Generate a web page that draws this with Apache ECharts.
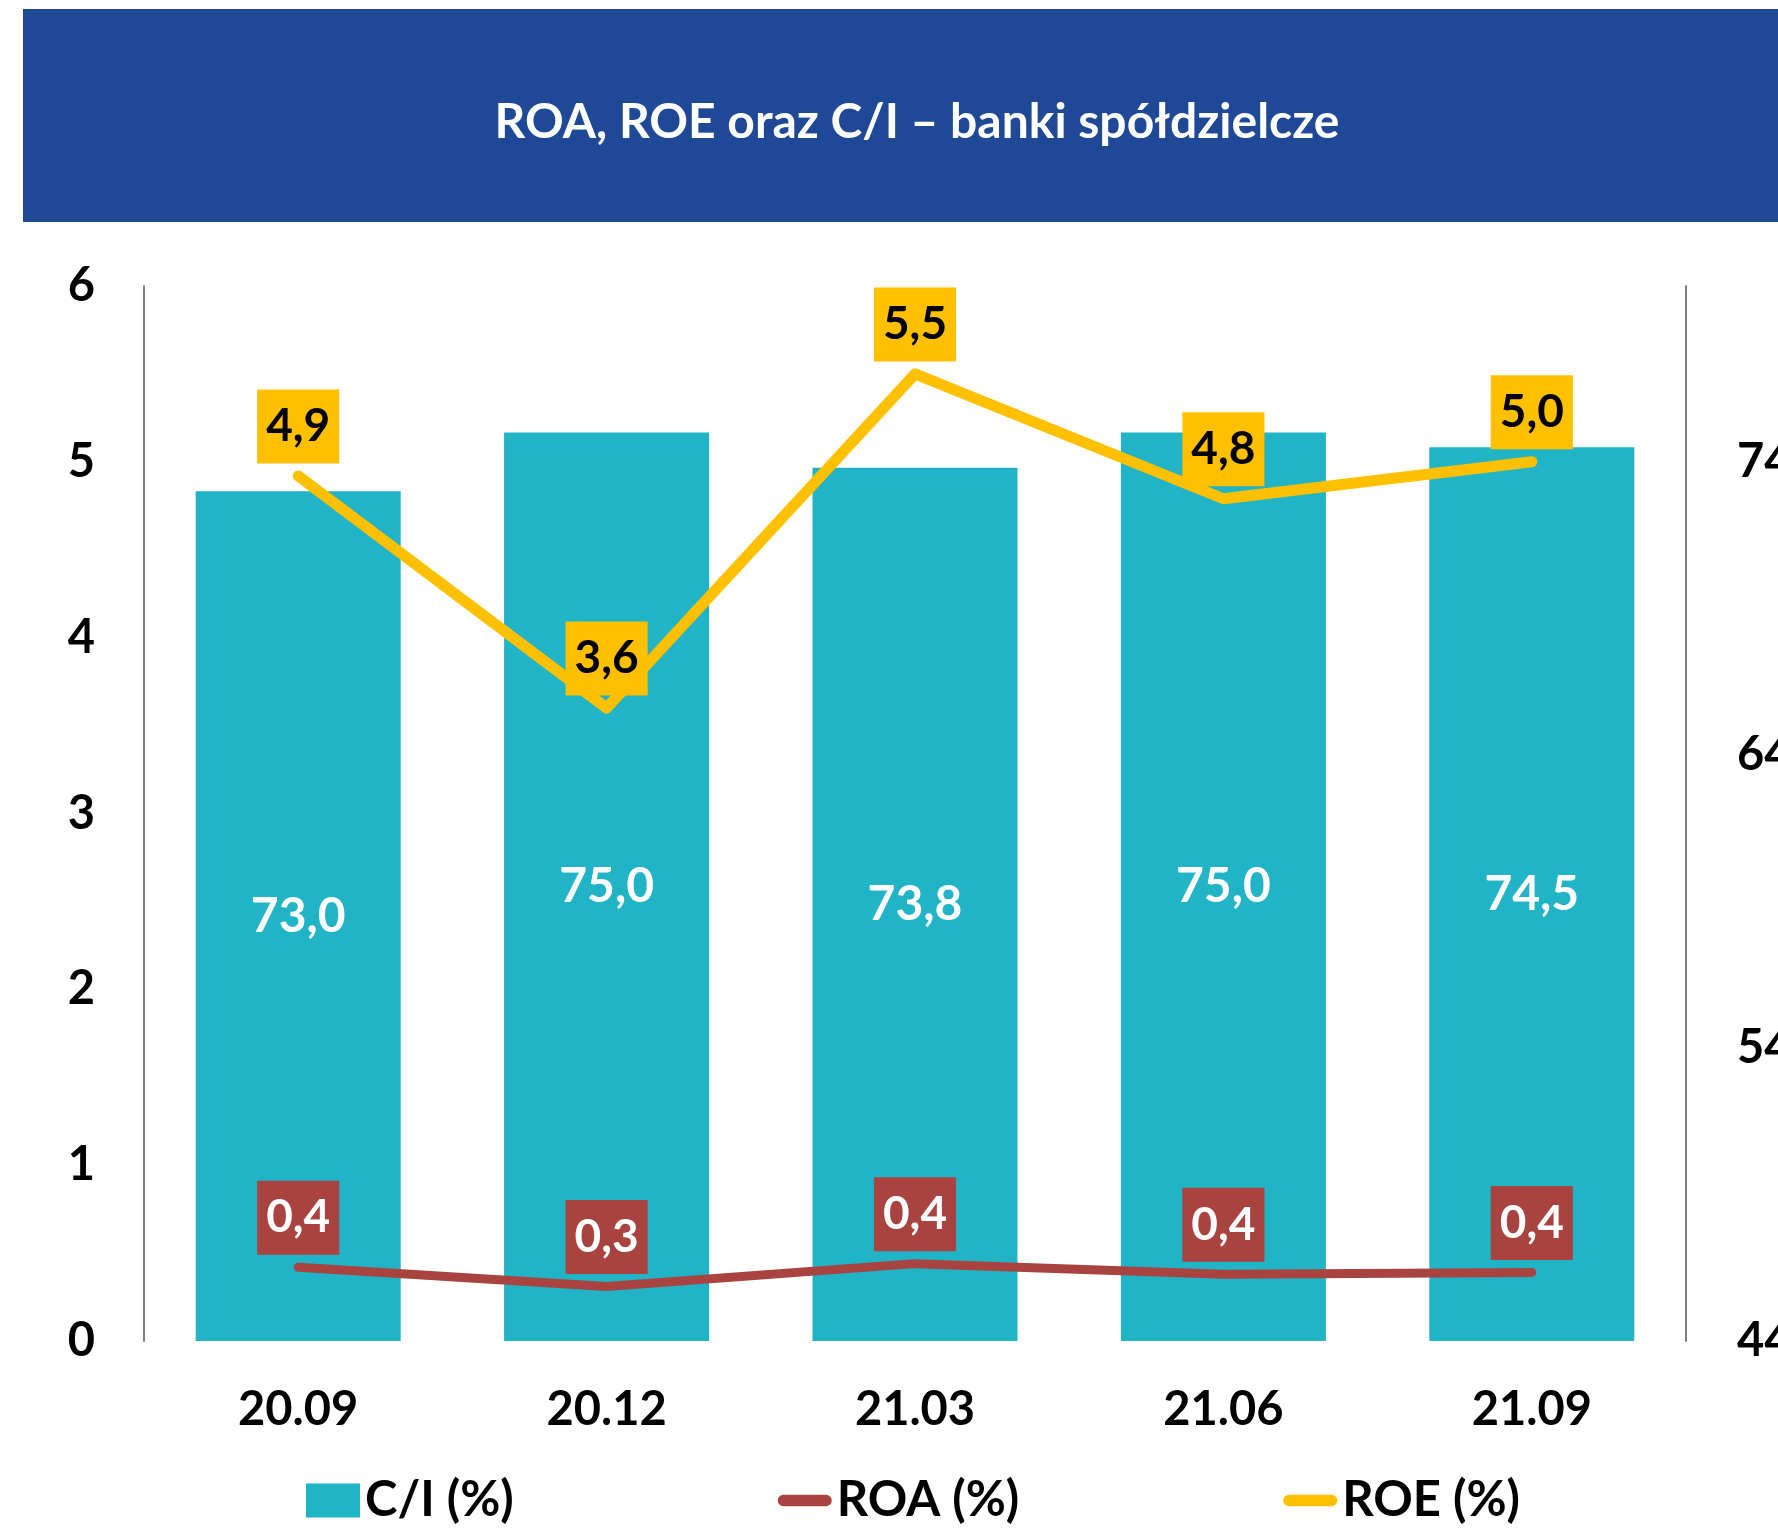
<!DOCTYPE html>
<html>
<head>
<meta charset="utf-8">
<script src="https://cdn.jsdelivr.net/npm/echarts@6/dist/echarts.min.js"></script>
<style>
    html, body { margin: 0; padding: 0; background: #fff; }
    #chart { width: 1778px; height: 1529px; }
</style>
</head>
<body>
<div id="chart"></div>
<script>
    // dane z wykresu
    const categories = ['20.09', '20.12', '21.03', '21.06', '21.09'];
    const ciValues = [73.0, 75.0, 73.8, 75.0, 74.5];
    const roaValues = [0.42, 0.31, 0.44, 0.38, 0.39];
    const roeValues = [4.92, 3.6, 5.5, 4.79, 5.0];
    const leftTicks = [0, 6, 1];   // min, max, krok
    const rightTicks = [44, 80, 10];

    const FONT = 'Lato';
    const fmt = v => v.toFixed(1).replace('.', ',');

    // pigułka dla ikon legendy linii
    const pill = 'path://M6,0 L50,0 A6,6 0 0 1 50,12 L6,12 A6,6 0 0 1 6,0 Z';

    const chart = echarts.init(document.getElementById('chart'));

    const boxLabel = (bg, color) => ({
        show: true,
        position: 'top',
        distance: 12,
        formatter: p => fmt(p.value),
        backgroundColor: bg,
        color: color,
        fontFamily: FONT,
        fontWeight: 'bold',
        fontSize: 46,
        lineHeight: 50,
        padding: [12, 9, 12, 9]
    });

    const axisText = {
        color: '#000',
        fontFamily: FONT,
        fontWeight: 'bold',
        fontSize: 47
    };

    const option = {
        backgroundColor: '#fff',
        animation: false,
        title: {
            text: 'ROA, ROE oraz C/I – banki spółdzielcze',
            left: 912,
            top: 118,
            textAlign: 'center',
            textVerticalAlign: 'middle',
            textStyle: {
                color: '#fff',
                fontFamily: FONT,
                fontWeight: 'bold',
                fontSize: 48
            }
        },
        graphic: [{
            type: 'rect',
            z: -1,
            shape: { x: 23, y: 9, width: 1778 - 23, height: 213 },
            style: { fill: '#1F4896' }
        }],
        legend: {
            left: 301,
            top: 1471,
            itemGap: 264,
            itemWidth: 54,
            itemHeight: 34,
            textStyle: {
                color: '#000',
                fontFamily: FONT,
                fontWeight: 'bold',
                fontSize: 49
            },
            data: [
                { name: 'C/I (%)', icon: 'rect' },
                { name: 'ROA (%)', icon: pill },
                { name: 'ROE (%)', icon: pill }
            ]
        },
        grid: {
            left: 144,
            right: 92,
            top: 286,
            bottom: 188,
            containLabel: false,
            outerBoundsMode: 'none'
        },
        xAxis: {
            type: 'category',
            data: categories,
            axisLine: { show: false },
            axisTick: { show: false },
            axisLabel: Object.assign({ margin: 45 }, axisText)
        },
        yAxis: [{
            type: 'value',
            min: leftTicks[0],
            max: leftTicks[1],
            interval: leftTicks[2],
            splitLine: { show: false },
            axisTick: { show: false },
            axisLine: { show: true, lineStyle: { color: '#7f7f7f', width: 2 } },
            axisLabel: Object.assign({ margin: 49 }, axisText)
        }, {
            type: 'value',
            position: 'right',
            min: rightTicks[0],
            max: rightTicks[1],
            interval: rightTicks[2],
            splitLine: { show: false },
            axisTick: { show: false },
            axisLine: { show: true, lineStyle: { color: '#7f7f7f', width: 2 } },
            axisLabel: Object.assign({ margin: 51, showMaxLabel: false }, axisText)
        }],
        series: [{
            name: 'C/I (%)',
            type: 'bar',
            yAxisIndex: 1,
            data: ciValues,
            barWidth: 205,
            itemStyle: { color: '#21B3C6' },
            label: {
                show: true,
                position: 'inside',
                formatter: p => fmt(p.value),
                color: '#fff',
                fontFamily: FONT,
                fontWeight: 'bold',
                fontSize: 48
            },
            z: 1
        }, {
            name: 'ROA (%)',
            type: 'line',
            yAxisIndex: 0,
            data: roaValues,
            symbol: 'circle',
            symbolSize: 1,
            lineStyle: { color: '#A9433F', width: 9, cap: 'round', join: 'round' },
            itemStyle: { color: '#A9433F' },
            label: boxLabel('#A9433F', '#fff'),
            z: 3
        }, {
            name: 'ROE (%)',
            type: 'line',
            yAxisIndex: 0,
            data: roeValues,
            symbol: 'circle',
            symbolSize: 1,
            lineStyle: { color: '#FFC000', width: 11, cap: 'round', join: 'round' },
            itemStyle: { color: '#FFC000' },
            label: boxLabel('#FFC000', '#000'),
            z: 4
        }]
    };

    chart.setOption(option);
</script>
</body>
</html>
